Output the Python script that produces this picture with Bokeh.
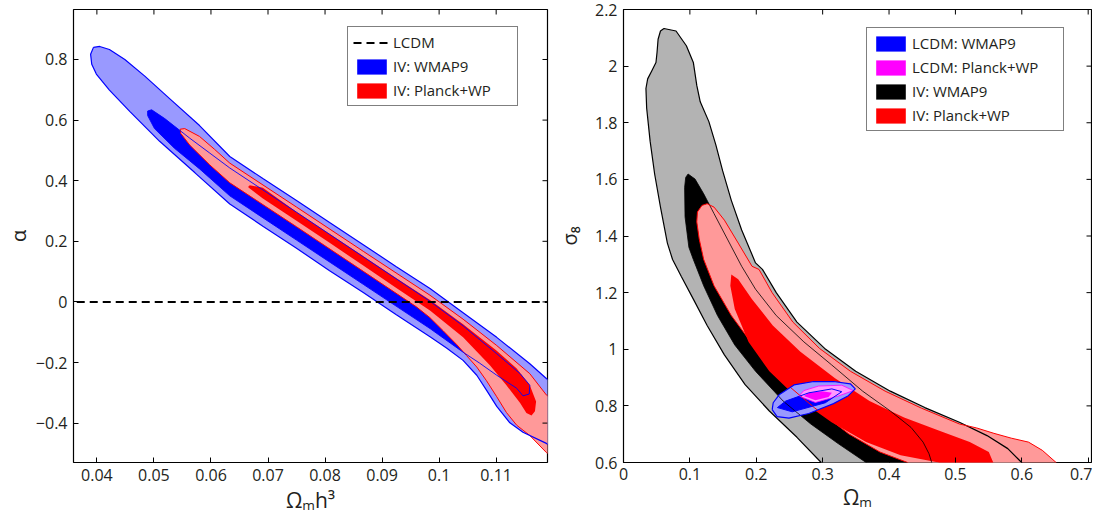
import math
from bokeh.plotting import figure
from bokeh.layouts import row
from bokeh.models import Range1d, FixedTicker, Legend, LegendItem
from bokeh.embed import file_html
from bokeh.resources import INLINE

FONT = "Open Sans"
TXT = "#231f20"

# ---------------- left panel: alpha vs Omega_m h^3 ----------------
xrange_l = (0.0359, 0.1190)
yrange_l = (-0.53, 0.965)
xticks_l = [0.04, 0.05, 0.06, 0.07, 0.08, 0.09, 0.1, 0.11]
xtick_labels_l = ["0.04", "0.05", "0.06", "0.07", "0.08", "0.09", "0.1", "0.11"]
yticks_l = [-0.4, -0.2, 0.0, 0.2, 0.4, 0.6, 0.8]
ytick_labels_l = ["\u22120.4", "\u22120.2", "0", "0.2", "0.4", "0.6", "0.8"]
xlabel_l = "\u03a9\u2098h\u00b3"
ylabel_l = "\u03b1"
lcdm_x = [0.0, 0.2]
lcdm_alpha = [0.0, 0.0]

wmap9_95_x = [0.0394, 0.0405, 0.0422, 0.0449, 0.0484, 0.0528, 0.0580, 0.0633, 0.0691, 0.0750, 0.0808, 0.0867,
              0.0925, 0.0984, 0.1042, 0.1101, 0.1159, 0.1188, 0.1215, 0.1215,
              0.1188, 0.1147, 0.1124, 0.1101, 0.1083, 0.1066, 0.1042, 0.1013, 0.0984, 0.0925, 0.0867, 0.0808,
              0.0750, 0.0691, 0.0633, 0.0572, 0.0510, 0.0458, 0.0422, 0.0399, 0.0391, 0.0389]
wmap9_95_y = [0.840, 0.843, 0.833, 0.800, 0.745, 0.670, 0.582, 0.480, 0.407, 0.335, 0.262, 0.189,
              0.116, 0.044, -0.036, -0.117, -0.204, -0.253, -0.29, -0.50,
              -0.467, -0.430, -0.399, -0.345, -0.291, -0.242, -0.193, -0.152, -0.115, -0.042, 0.031, 0.103,
              0.177, 0.250, 0.323, 0.426, 0.530, 0.628, 0.699, 0.752, 0.784, 0.817]

wmap9_68_x = [0.0489, 0.0496, 0.0519, 0.0563, 0.0598, 0.0633, 0.0750, 0.0867, 0.0984, 0.1042, 0.1101, 0.1142,
              0.1159, 0.1158, 0.1147,
              0.1136, 0.1101, 0.1071, 0.1042, 0.0984, 0.0867, 0.0750, 0.0633, 0.0580, 0.0536, 0.0501, 0.0489]
wmap9_68_y = [0.630, 0.634, 0.605, 0.540, 0.491, 0.442, 0.296, 0.149, 0.002, -0.079, -0.171, -0.237,
              -0.275, -0.304, -0.310,
              -0.285, -0.242, -0.202, -0.166, -0.088, 0.058, 0.204, 0.350, 0.439, 0.507, 0.572, 0.615]

planck_95_x = [0.0546, 0.0554, 0.0580, 0.0606, 0.0633, 0.0750, 0.0867, 0.0984, 0.1042, 0.1101, 0.1159, 0.1188,
               0.1215, 0.1215,
               0.1188, 0.1159, 0.1136, 0.1118, 0.1101, 0.1083, 0.1066, 0.1048, 0.1031, 0.1007, 0.0984, 0.0960,
               0.0867, 0.0750, 0.0633, 0.0598, 0.0563, 0.0547]
planck_95_y = [0.570, 0.572, 0.546, 0.504, 0.458, 0.313, 0.167, 0.022, -0.057, -0.144, -0.237, -0.307,
               -0.35, -0.53,
               -0.497, -0.441, -0.407, -0.365, -0.313, -0.260, -0.215, -0.177, -0.141, -0.095, -0.052, -0.016,
               0.101, 0.248, 0.393, 0.452, 0.517, 0.556]

planck_68_x = [0.0665, 0.0668, 0.0691, 0.0750, 0.0808, 0.0867, 0.0925, 0.0984, 0.1042, 0.1101, 0.1136, 0.1159,
               0.1170, 0.1168, 0.1162,
               0.1153, 0.1142, 0.1118, 0.1089, 0.1042, 0.0984, 0.0925, 0.0867, 0.0808, 0.0750, 0.0691, 0.0668]
planck_68_y = [0.379, 0.385, 0.377, 0.297, 0.224, 0.151, 0.078, 0.006, -0.074, -0.161, -0.220, -0.275,
               -0.329, -0.361, -0.375,
               -0.367, -0.334, -0.275, -0.209, -0.117, -0.028, 0.046, 0.120, 0.195, 0.268, 0.341, 0.374]

# ---------------- right panel: sigma_8 vs Omega_m ----------------
xrange_r = (0.0, 0.705)
yrange_r = (0.6, 2.2)
xticks_r = [0.0, 0.1, 0.2, 0.3, 0.4, 0.5, 0.6, 0.7]
xtick_labels_r = ["0", "0.1", "0.2", "0.3", "0.4", "0.5", "0.6", "0.7"]
yticks_r = [0.6, 0.8, 1.0, 1.2, 1.4, 1.6, 1.8, 2.0, 2.2]
ytick_labels_r = ["0.6", "0.8", "1", "1.2", "1.4", "1.6", "1.8", "2", "2.2"]
xlabel_r = "\u03a9\u2098"
ylabel_r = "\u03c3\u2088"

iv_wmap9_95_x = [0.0609, 0.0791, 0.0947, 0.1052, 0.1104, 0.1156, 0.1286, 0.1390, 0.1494, 0.1624, 0.1780, 0.1989,
                 0.2093, 0.2301, 0.2613, 0.3030, 0.3498, 0.4019, 0.4539, 0.5060, 0.5476, 0.5789, 0.5997, 0.61,
                 0.29, 0.2978, 0.2613, 0.2197, 0.1832, 0.1520, 0.1260, 0.1052, 0.0869, 0.0739, 0.0661, 0.0557,
                 0.0469, 0.0401, 0.0349, 0.0338, 0.0364, 0.0427, 0.0489, 0.0505, 0.0521, 0.0557]
iv_wmap9_95_y = [2.133, 2.124, 2.072, 2.013, 1.932, 1.874, 1.804, 1.723, 1.630, 1.526, 1.421, 1.305,
                 1.282, 1.200, 1.096, 1.003, 0.922, 0.852, 0.794, 0.742, 0.695, 0.649, 0.600, 0.55,
                 0.55, 0.600, 0.689, 0.782, 0.875, 0.980, 1.084, 1.177, 1.258, 1.317, 1.375, 1.502,
                 1.619, 1.735, 1.851, 1.921, 1.955, 1.984, 2.013, 2.048, 2.095, 2.124]

iv_wmap9_68_x = [0.0973, 0.1078, 0.1208, 0.1364, 0.1572, 0.1780, 0.1989, 0.2301, 0.2717, 0.3134, 0.3602, 0.4019,
                 0.4331, 0.4513, 0.4602, 0.4643, 0.466,
                 0.36, 0.3654, 0.3238, 0.2821, 0.2405, 0.1989, 0.1676, 0.1416, 0.1208, 0.1052, 0.0985, 0.0927,
                 0.0921, 0.0937]
iv_wmap9_68_y = [1.619, 1.601, 1.549, 1.479, 1.386, 1.293, 1.212, 1.119, 1.026, 0.945, 0.852, 0.782,
                 0.724, 0.672, 0.631, 0.600, 0.55,
                 0.55, 0.600, 0.666, 0.736, 0.817, 0.922, 1.015, 1.119, 1.224, 1.317, 1.36, 1.468,
                 1.572, 1.607]

iv_planck_95_x = [0.1260, 0.1364, 0.1520, 0.1728, 0.1936, 0.2041, 0.2238, 0.2551, 0.2952, 0.3420, 0.3941, 0.4487,
                  0.5060, 0.5320, 0.5580, 0.5841, 0.6101, 0.6309, 0.6517, 0.66,
                  0.42, 0.4279, 0.3863, 0.3394, 0.2873, 0.2405, 0.1989, 0.1624, 0.1364, 0.1208, 0.1140,
                  0.1104, 0.1114, 0.1182]
iv_planck_95_y = [1.514, 1.502, 1.456, 1.375, 1.293, 1.282, 1.200, 1.096, 1.003, 0.922, 0.852, 0.792,
                  0.736, 0.722, 0.703, 0.686, 0.672, 0.643, 0.600, 0.55,
                  0.55, 0.600, 0.637, 0.701, 0.794, 0.887, 1.003, 1.119, 1.224, 1.317, 1.390,
                  1.450, 1.485, 1.508]

iv_planck_68_x = [0.1624, 0.1728, 0.1936, 0.2249, 0.2665, 0.3186, 0.3706, 0.4227, 0.4748, 0.5216, 0.5503, 0.5570,
                  0.558, 0.47, 0.4748, 0.4175, 0.3654, 0.3134, 0.2613, 0.2197, 0.1884, 0.1676, 0.1609]
iv_planck_68_y = [1.264, 1.247, 1.177, 1.084, 0.991, 0.898, 0.817, 0.759, 0.713, 0.672, 0.637, 0.600,
                  0.55, 0.55, 0.600, 0.626, 0.672, 0.742, 0.829, 0.922, 1.026, 1.142, 1.224]

lcdm_wmap9_95_x = [0.2240, 0.2314, 0.2493, 0.2791, 0.3164, 0.3387, 0.3492, 0.3417, 0.3164, 0.2866, 0.2568, 0.2344, 0.2255]
lcdm_wmap9_95_y = [0.787, 0.762, 0.757, 0.773, 0.808, 0.836, 0.860, 0.878, 0.886, 0.886, 0.874, 0.839, 0.811]
lcdm_wmap9_68_x = [0.2319, 0.2542, 0.3040, 0.3288, 0.3139, 0.2791, 0.2444]
lcdm_wmap9_68_y = [0.794, 0.779, 0.811, 0.850, 0.860, 0.846, 0.817]
lcdm_planck_95_x = [0.2642, 0.2891, 0.3238, 0.3462, 0.3288, 0.2940, 0.2717]
lcdm_planck_95_y = [0.835, 0.812, 0.835, 0.854, 0.873, 0.870, 0.854]
lcdm_planck_68_x = [0.2717, 0.2891, 0.3089, 0.3139, 0.2990, 0.2791]
lcdm_planck_68_y = [0.835, 0.820, 0.831, 0.846, 0.852, 0.846]

BLUE, LBLUE = "#0000ff", "#9999ff"
RED, LRED = "#ff0000", "#ff9999"
MAG, LMAG = "#ff00ff", "#ff99ff"
BLACK, GREY = "#000000", "#b3b3b3"


def closed(a):
    return list(a) + [a[0]]


def style(p, xt, xl, yt, yl, xr, yr, xlab, ylab, xstand, ylab_standoff, xlab_standoff):
    p.grid.grid_line_color = None
    p.outline_line_color = "black"
    p.outline_line_width = 1.2
    p.background_fill_color = "white"
    p.border_fill_color = "white"
    p.xaxis.ticker = FixedTicker(ticks=xt)
    p.xaxis.major_label_overrides = {t: l for t, l in zip(xt, xl)}
    p.yaxis.ticker = FixedTicker(ticks=yt)
    p.yaxis.major_label_overrides = {t: l for t, l in zip(yt, yl)}
    for ax in (p.xaxis[0], p.yaxis[0]):
        ax.axis_line_color = None
        ax.major_tick_in = 5
        ax.major_tick_out = 0
        ax.minor_tick_line_color = None
        ax.major_tick_line_color = "black"
        ax.major_label_text_font = FONT
        ax.major_label_text_font_size = "16px"
        ax.major_label_text_color = TXT
        ax.axis_label_text_font = FONT
        ax.axis_label_text_font_style = "normal"
        ax.axis_label_text_color = TXT
    p.xaxis.axis_label_text_font_size = "21px"
    p.yaxis.axis_label_text_font_size = "20px"
    p.xaxis.major_label_standoff = xstand
    p.yaxis.major_label_standoff = 6
    p.xaxis.axis_label = xlab
    p.yaxis.axis_label = ylab
    p.xaxis.axis_label_standoff = xlab_standoff
    p.yaxis.axis_label_standoff = ylab_standoff
    # mirrored inward ticks on the top and right edges of the frame
    p.ray(x=xt, y=[yr[1]] * len(xt), length=5, length_units="screen", angle=-math.pi / 2,
          line_color="black", line_width=1)
    p.ray(x=[xr[1]] * len(yt), y=yt, length=5, length_units="screen", angle=math.pi,
          line_color="black", line_width=1)


# ---------------- left figure ----------------
p1 = figure(width=552, height=528, output_backend="svg", toolbar_location=None,
            x_range=Range1d(*xrange_l), y_range=Range1d(*yrange_l),
            min_border_left=73, min_border_right=5, min_border_top=9, min_border_bottom=66)

p1.patch(wmap9_95_x, wmap9_95_y, fill_color=LBLUE, line_color=None)
r_w68 = p1.patch(wmap9_68_x, wmap9_68_y, fill_color=BLUE, line_color=None)
p1.patch(planck_95_x, planck_95_y, fill_color=LRED, line_color=None)
r_p68 = p1.patch(planck_68_x, planck_68_y, fill_color=RED, line_color=None)
p1.line(closed(planck_95_x), closed(planck_95_y), line_color=RED, line_width=1.0)
p1.line(closed(wmap9_95_x), closed(wmap9_95_y), line_color=BLUE, line_width=1.2)
p1.line(closed(wmap9_68_x), closed(wmap9_68_y), line_color=BLUE, line_width=0.9)
r_l = p1.line(lcdm_x, lcdm_alpha, line_color="black", line_width=2, line_dash="8 5")
style(p1, xticks_l, xtick_labels_l, yticks_l, ytick_labels_l, xrange_l, yrange_l, xlabel_l, ylabel_l, 6, 1, 2)

leg1 = Legend(items=[LegendItem(label="LCDM", renderers=[r_l]),
                     LegendItem(label="IV: WMAP9", renderers=[r_w68]),
                     LegendItem(label="IV: Planck+WP", renderers=[r_p68])],
              location=(274, 356), orientation="vertical",
              glyph_width=37, glyph_height=19, label_height=19, label_width=119,
              label_standoff=3, spacing=4, padding=5, margin=0,
              border_line_color="black", border_line_width=1.5, background_fill_color="white",
              background_fill_alpha=1.0,
              label_text_font=FONT, label_text_font_size="15px", label_text_color=TXT)
p1.add_layout(leg1, "center")

# ---------------- right figure ----------------
p2 = figure(width=540, height=528, output_backend="svg", toolbar_location=None,
            x_range=Range1d(*xrange_r), y_range=Range1d(*yrange_r),
            min_border_left=70, min_border_right=1, min_border_top=9, min_border_bottom=63)

p2.patch(iv_wmap9_95_x, iv_wmap9_95_y, fill_color=GREY, line_color=None)
r_b68 = p2.patch(iv_wmap9_68_x, iv_wmap9_68_y, fill_color=BLACK, line_color=None)
p2.patch(iv_planck_95_x, iv_planck_95_y, fill_color=LRED, line_color=None)
r_r68 = p2.patch(iv_planck_68_x, iv_planck_68_y, fill_color=RED, line_color=None)
p2.patch(lcdm_wmap9_95_x, lcdm_wmap9_95_y, fill_color=LBLUE, line_color=None)
r_lw68 = p2.patch(lcdm_wmap9_68_x, lcdm_wmap9_68_y, fill_color=BLUE, line_color=None)
p2.patch(lcdm_planck_95_x, lcdm_planck_95_y, fill_color=LMAG, line_color=None)
r_lp68 = p2.patch(lcdm_planck_68_x, lcdm_planck_68_y, fill_color=MAG, line_color=None)

p2.line(closed(iv_wmap9_95_x), closed(iv_wmap9_95_y), line_color=BLACK, line_width=1.2)
p2.line(closed(iv_wmap9_68_x), closed(iv_wmap9_68_y), line_color=BLACK, line_width=0.8)
p2.line(closed(iv_planck_95_x), closed(iv_planck_95_y), line_color=RED, line_width=1.0)
p2.line(closed(lcdm_planck_95_x), closed(lcdm_planck_95_y), line_color=MAG, line_width=0.8)
p2.line(closed(lcdm_wmap9_95_x), closed(lcdm_wmap9_95_y), line_color=BLUE, line_width=1.2)
p2.line(closed(lcdm_wmap9_68_x), closed(lcdm_wmap9_68_y), line_color=BLUE, line_width=1.0)
style(p2, xticks_r, xtick_labels_r, yticks_r, ytick_labels_r, xrange_r, yrange_r, xlabel_r, ylabel_r, 5, 9, 0)

leg2 = Legend(items=[LegendItem(label="LCDM: WMAP9", renderers=[r_lw68]),
                     LegendItem(label="LCDM: Planck+WP", renderers=[r_lp68]),
                     LegendItem(label="IV: WMAP9", renderers=[r_b68]),
                     LegendItem(label="IV: Planck+WP", renderers=[r_r68])],
              location=(243, 331), orientation="vertical",
              glyph_width=37, glyph_height=19, label_height=19, label_width=146,
              label_standoff=3, spacing=4, padding=5, margin=0,
              border_line_color="black", border_line_width=1.5, background_fill_color="white",
              background_fill_alpha=1.0,
              label_text_font=FONT, label_text_font_size="15px", label_text_color=TXT)
p2.add_layout(leg2, "center")

layout = row(p1, p2)
open("out.html", "w").write(file_html(layout, INLINE))
